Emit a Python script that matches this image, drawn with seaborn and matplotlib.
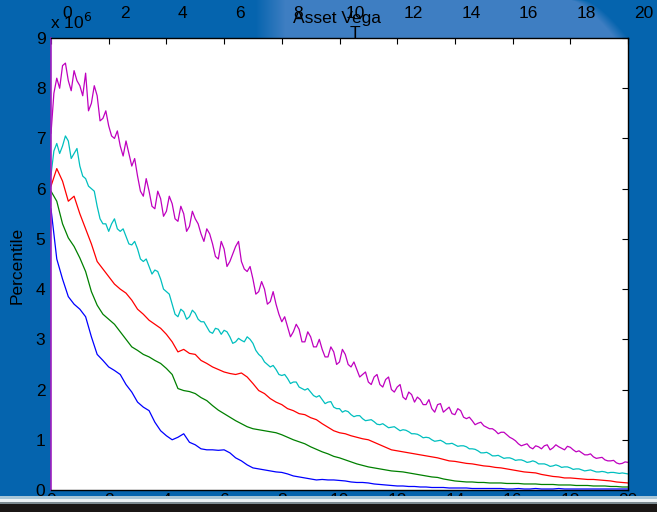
import numpy as np
import pandas as pd
import matplotlib
matplotlib.use("Agg")
import matplotlib.pyplot as plt
import matplotlib.transforms as mtransforms
from matplotlib.patches import Rectangle
import seaborn as sns

# Time grids (years); percentile paths of asset vega in units of 1e6
t_coarse = np.round(np.arange(0, 20.001, 0.2), 1)
t_fine = np.round(np.arange(0, 20.001, 0.1), 1)

p_low = [5.60, 4.60, 4.20, 3.85, 3.70, 3.60, 3.45, 3.05, 2.70, 2.58,
         2.45, 2.38, 2.30, 2.10, 1.95, 1.75, 1.65, 1.58, 1.35, 1.18,
         1.08, 1.00, 1.05, 1.12, 0.95, 0.90, 0.82, 0.80, 0.80, 0.79,
         0.80, 0.74, 0.64, 0.58, 0.50, 0.44, 0.42, 0.40, 0.38, 0.36,
         0.35, 0.32, 0.28, 0.26, 0.24, 0.22, 0.20, 0.21, 0.20, 0.20,
         0.19, 0.18, 0.16, 0.15, 0.15, 0.14, 0.12, 0.11, 0.10, 0.09,
         0.08, 0.08, 0.07, 0.07, 0.06, 0.06, 0.05, 0.05, 0.05, 0.04,
         0.04, 0.04, 0.04, 0.03, 0.03, 0.03, 0.03, 0.03, 0.03, 0.02,
         0.02, 0.03, 0.02, 0.02, 0.03, 0.02, 0.02, 0.02, 0.03, 0.02,
         0.02, 0.02, 0.02, 0.02, 0.02, 0.02, 0.02, 0.02, 0.02, 0.02,
         0.02]

p_q1 = [5.95, 5.75, 5.30, 5.02, 4.85, 4.62, 4.35, 3.95, 3.68, 3.50,
        3.40, 3.30, 3.15, 3.00, 2.85, 2.78, 2.70, 2.65, 2.58, 2.52,
        2.42, 2.30, 2.02, 1.98, 1.96, 1.92, 1.84, 1.78, 1.68, 1.59,
        1.52, 1.45, 1.38, 1.32, 1.26, 1.22, 1.20, 1.18, 1.16, 1.14,
        1.10, 1.05, 1.00, 0.96, 0.92, 0.86, 0.81, 0.76, 0.72, 0.67,
        0.64, 0.60, 0.56, 0.52, 0.49, 0.46, 0.44, 0.42, 0.40, 0.38,
        0.37, 0.36, 0.34, 0.32, 0.30, 0.28, 0.26, 0.25, 0.22, 0.20,
        0.18, 0.17, 0.16, 0.16, 0.15, 0.15, 0.14, 0.14, 0.14, 0.13,
        0.13, 0.13, 0.12, 0.12, 0.12, 0.11, 0.11, 0.11, 0.10, 0.10,
        0.10, 0.09, 0.09, 0.09, 0.08, 0.08, 0.08, 0.07, 0.07, 0.06,
        0.06]

p_med = [6.05, 6.40, 6.15, 5.75, 5.85, 5.50, 5.20, 4.90, 4.55, 4.40,
         4.25, 4.10, 4.00, 3.92, 3.78, 3.60, 3.50, 3.38, 3.30, 3.22,
         3.10, 2.95, 2.75, 2.80, 2.72, 2.70, 2.58, 2.52, 2.45, 2.40,
         2.35, 2.32, 2.30, 2.33, 2.25, 2.12, 1.98, 1.92, 1.82, 1.75,
         1.70, 1.62, 1.58, 1.52, 1.50, 1.44, 1.40, 1.32, 1.25, 1.18,
         1.14, 1.12, 1.08, 1.05, 1.02, 1.00, 0.95, 0.90, 0.85, 0.80,
         0.78, 0.76, 0.74, 0.72, 0.70, 0.68, 0.66, 0.64, 0.61, 0.58,
         0.57, 0.55, 0.53, 0.52, 0.50, 0.48, 0.47, 0.45, 0.44, 0.42,
         0.40, 0.38, 0.36, 0.35, 0.34, 0.31, 0.29, 0.27, 0.26, 0.24,
         0.24, 0.23, 0.22, 0.21, 0.21, 0.20, 0.19, 0.18, 0.16, 0.15,
         0.14]

p_q3 = [6.27, 6.75, 6.90, 6.70, 6.85, 7.05, 6.95, 6.60, 6.70, 6.80,
        6.45, 6.25, 6.20, 6.05, 6.00, 5.95, 5.65, 5.40, 5.30, 5.30,
        5.15, 5.30, 5.40, 5.20, 5.15, 5.20, 5.05, 4.90, 4.88, 4.95,
        4.80, 4.60, 4.55, 4.60, 4.45, 4.30, 4.38, 4.35, 4.20, 4.00,
        3.95, 3.90, 3.70, 3.50, 3.45, 3.60, 3.55, 3.40, 3.45, 3.58,
        3.52, 3.40, 3.35, 3.35, 3.25, 3.15, 3.12, 3.22, 3.20, 3.10,
        3.18, 3.15, 3.05, 2.92, 2.95, 3.02, 2.98, 2.95, 3.05, 3.00,
        2.92, 2.78, 2.70, 2.65, 2.55, 2.50, 2.45, 2.48, 2.40, 2.30,
        2.28, 2.30, 2.22, 2.12, 2.15, 2.15, 2.05, 2.02, 1.99, 2.02,
        1.95, 1.88, 1.85, 1.88, 1.80, 1.72, 1.75, 1.76, 1.65, 1.62,
        1.62, 1.55, 1.58, 1.56, 1.50, 1.46, 1.48, 1.48, 1.42, 1.38,
        1.39, 1.40, 1.36, 1.31, 1.30, 1.32, 1.28, 1.24, 1.25, 1.26,
        1.22, 1.18, 1.20, 1.19, 1.16, 1.12, 1.12, 1.11, 1.08, 1.04,
        1.05, 1.04, 1.00, 0.97, 0.98, 0.99, 0.96, 0.92, 0.92, 0.93,
        0.90, 0.87, 0.88, 0.88, 0.86, 0.82, 0.82, 0.81, 0.78, 0.74,
        0.74, 0.75, 0.72, 0.68, 0.68, 0.69, 0.66, 0.63, 0.64, 0.64,
        0.62, 0.59, 0.60, 0.60, 0.58, 0.55, 0.56, 0.58, 0.56, 0.52,
        0.52, 0.52, 0.50, 0.47, 0.48, 0.50, 0.48, 0.45, 0.46, 0.46,
        0.44, 0.41, 0.42, 0.42, 0.40, 0.38, 0.39, 0.40, 0.38, 0.36,
        0.36, 0.37, 0.36, 0.34, 0.35, 0.35, 0.34, 0.33, 0.34, 0.33,
        0.32]

p_high = [7.10, 7.90, 8.20, 8.00, 8.45, 8.50, 8.15, 7.95, 8.35, 8.15,
          8.05, 7.85, 8.30, 7.55, 7.70, 8.05, 7.85, 7.35, 7.40, 7.55,
          7.25, 7.05, 7.00, 7.15, 6.85, 6.65, 6.95, 6.70, 6.45, 6.60,
          6.25, 5.95, 5.85, 6.20, 5.95, 5.65, 5.60, 5.95, 5.80, 5.45,
          5.55, 5.85, 5.70, 5.40, 5.35, 5.65, 5.50, 5.15, 5.25, 5.55,
          5.40, 5.30, 5.10, 4.95, 5.20, 5.10, 4.90, 4.65, 4.60, 4.95,
          4.80, 4.45, 4.55, 4.70, 4.85, 4.95, 4.55, 4.40, 4.35, 4.45,
          4.20, 3.90, 3.95, 4.15, 4.00, 3.70, 3.75, 3.95, 3.70, 3.50,
          3.35, 3.45, 3.25, 3.05, 3.15, 3.30, 3.20, 2.95, 2.95, 3.15,
          3.05, 2.85, 2.85, 3.00, 2.80, 2.65, 2.65, 2.85, 2.75, 2.50,
          2.55, 2.80, 2.70, 2.50, 2.45, 2.55, 2.40, 2.25, 2.30, 2.35,
          2.15, 2.10, 2.25, 2.30, 2.10, 2.05, 2.20, 2.25, 2.00, 1.95,
          2.05, 2.10, 1.85, 1.80, 1.95, 1.90, 1.75, 1.85, 1.80, 1.70,
          1.70, 1.80, 1.62, 1.55, 1.70, 1.72, 1.55, 1.60, 1.65, 1.52,
          1.50, 1.62, 1.58, 1.45, 1.42, 1.45, 1.38, 1.30, 1.33, 1.35,
          1.28, 1.25, 1.22, 1.22, 1.18, 1.12, 1.15, 1.15, 1.10, 1.05,
          1.02, 0.98, 0.92, 0.88, 0.90, 0.92, 0.85, 0.82, 0.88, 0.86,
          0.82, 0.88, 0.90, 0.80, 0.84, 0.90, 0.86, 0.83, 0.80, 0.87,
          0.85, 0.80, 0.76, 0.78, 0.74, 0.70, 0.70, 0.72, 0.66, 0.63,
          0.64, 0.65, 0.60, 0.58, 0.58, 0.59, 0.54, 0.52, 0.53, 0.56,
          0.55]

series_names = ["p_low", "p_q1", "p_med", "p_q3", "p_high"]
series_times = [t_coarse, t_coarse, t_coarse, t_fine, t_fine]
series_values = [p_low, p_q1, p_med, p_q3, p_high]
series_colors = ["#0000ff", "#008000", "#ff0000", "#00bfbf", "#bf00bf"]

df = pd.concat(
    [pd.DataFrame({"T": tt, "vega": v, "pct": n})
     for n, tt, v in zip(series_names, series_times, series_values)],
    ignore_index=True,
)

x_ticks = list(range(0, 21, 2))
y_ticks = list(range(0, 10))

W, H = 657, 512
def fx(px):
    return px / W
def fy(py):
    return 1 - py / H

FS = 12.5

sns.set_style("white")
plt.rcParams["font.family"] = ["Liberation Sans", "DejaVu Sans"]
plt.rcParams["text.color"] = "black"
plt.rcParams["xtick.color"] = "black"
plt.rcParams["ytick.color"] = "black"

fig = plt.figure(figsize=(W / 100, H / 100), dpi=100)
base = np.array([0x05, 0x64, 0xAE]) / 255.0
light = np.array([0x3E, 0x7E, 0xC2]) / 255.0
fig.patch.set_facecolor(base)

# slide backdrop: darker blue with a lighter header band, soft-edged
yy, xx = np.mgrid[0:H, 0:W].astype(float)
left_ramp = np.clip((xx - 255) / 30.0, 0, 1)
right_edge = 585 + 45 * np.clip(yy / 40.0, 0, 1) ** 0.7
right_ramp = np.clip((right_edge - xx) / 14.0, 0, 1)
bottom_ramp = np.clip((44 - yy) / 6.0, 0, 1)
mix = (left_ramp * right_ramp * bottom_ramp)[..., None]
backdrop = base * (1 - mix) + light * mix
bg = fig.add_axes([0, 0, 1, 1], zorder=-5)
bg.imshow(backdrop, aspect="auto", interpolation="bilinear")
bg.set_axis_off()

ax = fig.add_axes([fx(51), fy(490), fx(628) - fx(51), (490 - 38) / H])
ax.set_facecolor("white")

sns.lineplot(data=df, x="T", y="vega", hue="pct", hue_order=series_names,
             palette=series_colors, estimator=None, legend=False,
             linewidth=0.9, ax=ax)

ax.set_xlim(0, 20)
ax.set_ylim(0, 9)
ax.set_xticks(x_ticks)
ax.set_yticks(y_ticks)
ax.set_xticklabels([str(v) for v in x_ticks])
ax.set_yticklabels([str(v) for v in y_ticks])
ax.set_xlabel("")
ax.set_ylabel("")
ax.tick_params(direction="in", length=4, width=0.8, top=True, right=True,
               labelsize=FS, colors="black", labelcolor="black")
ax.tick_params(axis="x", pad=2)
ax.tick_params(axis="y", pad=4)
for side in ["top", "right", "bottom"]:
    ax.spines[side].set_color("black")
    ax.spines[side].set_linewidth(1.0)
ax.spines["left"].set_color("#a020c0")
ax.spines["left"].set_linewidth(1.2)

# tick labels along the top edge, shifted to the right of their ticks
top_tr = mtransforms.blended_transform_factory(ax.transData, fig.transFigure) + \
    mtransforms.ScaledTranslation(0.16, 0, fig.dpi_scale_trans)
for v in x_ticks:
    ax.text(v, fy(13), str(v), transform=top_tr, ha="center", va="center",
            fontsize=FS, color="black", clip_on=False)

txt = dict(fontsize=FS, color="black")
fig.text(fx(58), fy(-4), "8", ha="center", va="center", **txt)
fig.text(fx(50), fy(22), r"x 10$^{6}$", ha="left", va="center", **txt)
fig.text(fx(337), fy(18), "Asset Vega", ha="center", va="center", **txt)
fig.text(fx(355), fy(33), "T", ha="center", va="center", **txt)
fig.text(fx(17), fy(265), "Percentile", ha="center", va="center",
         rotation=90, **txt)

# taskbar-like strip along the bottom edge
strip = [(496, 499, "#a8c6d8"), (499, 502, "#eef3f5"),
         (502, 504, "#7d8a90"), (504, 513, "#1b1715")]
for y0, y1, c in strip:
    fig.add_artist(Rectangle((0, fy(y1)), 1, (y1 - y0) / H,
                             transform=fig.transFigure, facecolor=c,
                             edgecolor="none", zorder=10))

fig.savefig("out.png", dpi=100, facecolor=fig.get_facecolor())
